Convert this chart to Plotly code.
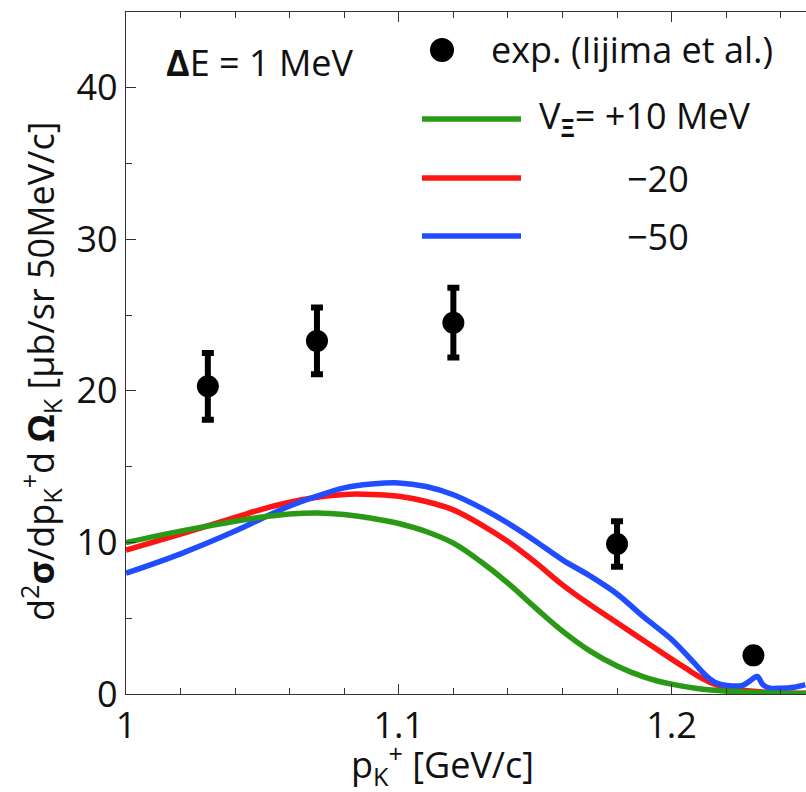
import plotly.graph_objects as go

# ---------------- data ----------------
exp_x = [1.03, 1.07, 1.12, 1.18, 1.23]
exp_y = [20.3, 23.3, 24.5, 9.9, 2.55]
exp_err = [2.2, 2.2, 2.3, 1.5, 0.0]

green_x = [1.00, 1.02, 1.04, 1.05, 1.06, 1.07, 1.08, 1.09, 1.10, 1.11, 1.12, 1.13, 1.14, 1.15,
           1.16, 1.17, 1.18, 1.19, 1.20, 1.21, 1.22, 1.23, 1.24, 1.25]
green_y = [10.0, 10.75, 11.4, 11.68, 11.88, 11.95, 11.85, 11.6, 11.25, 10.72, 9.95, 8.74, 7.32, 5.7,
           4.15, 2.85, 1.85, 1.12, 0.65, 0.35, 0.2, 0.1, 0.05, 0.03]

red_x = [1.00, 1.02, 1.04, 1.05, 1.06, 1.07, 1.08, 1.09, 1.10, 1.11, 1.12, 1.13, 1.14, 1.15,
         1.16, 1.17, 1.18, 1.19, 1.20, 1.205, 1.21, 1.215, 1.22, 1.23, 1.24, 1.25]
red_y = [9.5, 10.55, 11.65, 12.2, 12.65, 12.98, 13.17, 13.17, 13.05, 12.7, 12.15, 11.2, 10.06, 8.7,
         7.2, 5.9, 4.7, 3.5, 2.3, 1.72, 1.15, 0.7, 0.42, 0.18, 0.08, 0.04]

blue_x = [1.00, 1.02, 1.04, 1.05, 1.06, 1.07, 1.08, 1.09, 1.10, 1.11, 1.12, 1.13, 1.14, 1.15,
          1.16, 1.17, 1.18, 1.19, 1.20, 1.208, 1.213, 1.2165, 1.221, 1.226, 1.2293,
          1.2314, 1.2335, 1.236, 1.24, 1.245, 1.249]
blue_y = [7.97, 9.25, 10.75, 11.6, 12.4, 13.05, 13.6, 13.85, 13.93, 13.69, 13.15, 12.3, 11.27, 10.1,
          8.85, 7.8, 6.6, 5.05, 3.6, 2.1, 1.15, 0.72, 0.55, 0.57, 0.94,
          1.16, 0.61, 0.39, 0.38, 0.45, 0.62]

x_tickvals = [1.0, 1.1, 1.2]
x_ticktext = ["1", "1.1", "1.2"]
y_tickvals = [0, 10, 20, 30, 40]

GREEN = "#2a9a16"
RED = "#ff1414"
BLUE = "#1f4dff"

W, H = 806, 792
ML, MR, MT, MB = 126, 0, 12, 98
PW, PH = W - ML - MR, H - MT - MB
FONT = "Open Sans"
FS = 36
LW = 5.5


def px(xp):
    return (xp - ML) / PW


def py(yp):
    return (H - MB - yp) / PH


fig = go.Figure()

fig.add_trace(go.Scatter(x=red_x, y=red_y, mode="lines", line=dict(color=RED, width=LW, shape="spline", smoothing=1.0),
                         name="−20", showlegend=False))
fig.add_trace(go.Scatter(x=blue_x, y=blue_y, mode="lines", line=dict(color=BLUE, width=LW, shape="spline", smoothing=1.0),
                         name="−50", showlegend=False))
fig.add_trace(go.Scatter(x=green_x, y=green_y, mode="lines", line=dict(color=GREEN, width=LW, shape="spline", smoothing=1.0),
                         name="V = +10 MeV", showlegend=False))
fig.add_trace(go.Scatter(x=exp_x, y=exp_y, mode="markers",
                         marker=dict(color="black", size=22),
                         error_y=dict(type="data", array=exp_err, visible=True, color="black", thickness=6, width=6),
                         name="exp. (Iijima et al.)", showlegend=False))

# ---- manual legend ----
fig.add_shape(type="circle", xref="paper", yref="paper",
              x0=px(442 - 12), x1=px(442 + 12), y0=py(50 + 12), y1=py(50 - 12),
              fillcolor="black", line=dict(width=0))
for yy, col in [(119, GREEN), (178, RED), (236, BLUE)]:
    fig.add_shape(type="line", xref="paper", yref="paper",
                  x0=px(422), x1=px(521), y0=py(yy), y1=py(yy),
                  line=dict(color=col, width=LW))

ann_font = dict(family=FONT, size=FS, color="#111")
fig.add_annotation(xref="paper", yref="paper", x=px(489), y=py(50), xanchor="left", yanchor="middle",
                   text="exp. (Iijima et al.)", showarrow=False, font=ann_font)
fig.add_annotation(xref="paper", yref="paper", x=px(537), y=py(118), xanchor="left", yanchor="middle",
                   text="V<sub><b>Ξ</b></sub>= +10 MeV", showarrow=False, font=ann_font)
fig.add_annotation(xref="paper", yref="paper", x=px(625), y=py(178), xanchor="left", yanchor="middle",
                   text="−20", showarrow=False, font=ann_font)
fig.add_annotation(xref="paper", yref="paper", x=px(625), y=py(236), xanchor="left", yanchor="middle",
                   text="−50", showarrow=False, font=ann_font)
fig.add_annotation(xref="paper", yref="paper", x=px(164), y=py(62), xanchor="left", yanchor="middle",
                   text="<b>Δ</b>E = 1 MeV", showarrow=False, font=ann_font)

# axis titles
fig.add_annotation(xref="paper", yref="paper", x=px(442), y=py(765), xanchor="center", yanchor="middle",
                   text="p<sub>K</sub><sup>+</sup> [GeV/c]", showarrow=False, font=ann_font)
fig.add_annotation(xref="paper", yref="paper", x=px(40), y=py(372), xanchor="center", yanchor="middle",
                   textangle=-90,
                   text="d<sup>2</sup><b>σ</b>/dp<sub>K</sub><sup>+</sup>d <b>Ω</b><sub>K</sub> [μb/sr 50MeV/c]",
                   showarrow=False, font=ann_font)

axis_common = dict(ticks="inside", tickcolor="#333", tickwidth=1.3, ticklen=10,
                   showgrid=False, zeroline=False,
                   tickfont=dict(family=FONT, size=FS, color="#111"))

fig.update_layout(
    width=W, height=H,
    margin=dict(l=ML, r=MR, t=MT, b=MB, pad=0),
    paper_bgcolor="white", plot_bgcolor="white",
    showlegend=False,
    xaxis=dict(range=[1.0, 1.0 + PW / 2728], tickvals=x_tickvals, ticktext=x_ticktext,
               showline=True, linecolor="#333", linewidth=1.3, mirror="ticks",
               minor=dict(dtick=0.02, tick0=1.0, ticks="inside", ticklen=6, tickcolor="#333", tickwidth=1.3),
               **axis_common),
    yaxis=dict(range=[0, 45], tickvals=y_tickvals,
               showline=True, linecolor="#333", linewidth=1.3, mirror=False,
               minor=dict(dtick=5, tick0=0, ticks="inside", ticklen=6, tickcolor="#333", tickwidth=1.3),
               **axis_common),
    yaxis2=dict(range=[0, 45], tickvals=y_tickvals, overlaying="y", side="right", anchor="x",
                showline=False, showticklabels=False,
                minor=dict(dtick=5, tick0=0, ticks="inside", ticklen=6, tickcolor="#333", tickwidth=1.3),
                **axis_common),
)

fig.write_html("out.html")
